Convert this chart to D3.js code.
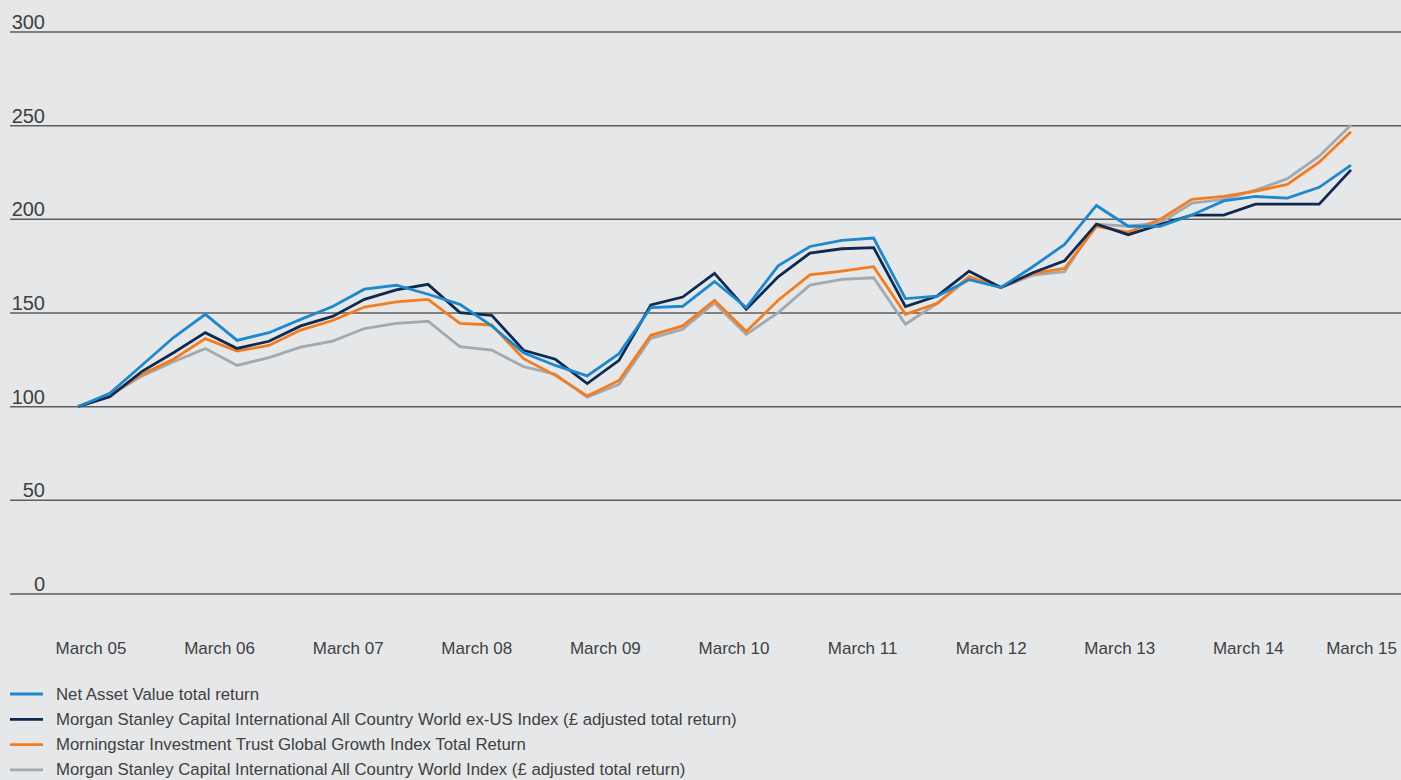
<!DOCTYPE html>
<html lang="en">
<head>
  <meta charset="UTF-8">
  <title>Performance since March 2005</title>
  <script src="https://d3js.org/d3.v7.min.js"></script>
  <style>
    body {
      margin: 0;
      background: #e6e7e9;
      font-family: "Liberation Sans", Arial, sans-serif;
    }
    .grid line { stroke: #5e5e5e; stroke-width: 1.5px; }
    .ytick { fill: #404040; font-size: 20px; }
    .xtick { fill: #404040; font-size: 17px; }
    .legend text { fill: #404040; font-size: 16.8px; }
    .series { fill: none; stroke-width: 2.8px; stroke-linejoin: miter; }
  </style>
</head>
<body>
  <div id="chart"></div>
  <script>
    // quarterly points, March 05 .. March 15 (rebased to 100)
    const yearLabels = ["March 05", "March 06", "March 07", "March 08", "March 09", "March 10",
      "March 11", "March 12", "March 13", "March 14", "March 15"];
    const yTicks = [0, 50, 100, 150, 200, 250, 300];

    const navReturn = [100, 107.1, 122, 136.9, 149.3, 135.4, 139.5, 146.6, 153.5, 162.7, 164.8,
      160, 154.6, 143.1, 128.8, 122, 116.4, 128.3, 152.9, 153.6, 166.8, 152.9, 175.2, 185.5,
      188.8, 190, 157.7, 159, 167.8, 163.6, 174.7, 186.6, 207.4, 196.3, 196.3, 202.3, 209.8,
      212.2, 211.3, 217.1, 228.9];
    const msciExUs = [100, 105.3, 118.7, 128.8, 139.5, 131.1, 134.9, 143.1, 148.2, 157.3, 162.3,
      165.3, 150.2, 148.8, 130.1, 125.3, 112.3, 124.7, 154.3, 158.5, 171.2, 152, 169.3, 182,
      184.3, 184.9, 153.4, 159.1, 172.3, 163.6, 171.5, 177.9, 197.4, 191.8, 197.2, 202.3, 202.3,
      208.1, 208.1, 208.1, 226.4];
    const morningstar = [100, 106.2, 117.2, 125.3, 136.3, 129.7, 132.7, 140.9, 146, 153.2, 155.9,
      157.3, 144.5, 143.6, 125.6, 116.7, 105.7, 114, 138.1, 143.1, 156.8, 140.1, 156.8, 170.4,
      172.4, 174.7, 149.3, 155.2, 169.4, 163.6, 171.1, 173.8, 196.2, 193.2, 199.9, 210.7, 212.2,
      215, 218.6, 230.5, 246.7];
    const msciAcwi = [100, 106, 116.3, 124, 131, 122, 126.2, 131.8, 135, 141.7, 144.5,
      145.6, 132, 130.2, 121.4, 117.3, 105.1, 111.9, 136.5, 141.3, 155.4, 138.6, 150.2, 164.9,
      168, 168.8, 144, 155.2, 168.6, 163.6, 170.2, 172.1, 197.4, 196.3, 198.1, 208.6, 210.7,
      215.6, 221.7, 233.7, 250.3];

    const seriesNames = [
      "Net Asset Value total return",
      "Morgan Stanley Capital International All Country World ex-US Index (\u00a3 adjusted total return)",
      "Morningstar Investment Trust Global Growth Index Total Return",
      "Morgan Stanley Capital International All Country World Index (\u00a3 adjusted total return)"
    ];
    const seriesColors = ["#1e88cc", "#0e2a50", "#f47c20", "#a2a9af"];
    const seriesValues = [navReturn, msciExUs, morningstar, msciAcwi];

    const width = 1401;
    const height = 780;

    const svg = d3.select("#chart")
      .append("svg")
      .attr("width", width)
      .attr("height", height);

    const x = d3.scaleLinear().domain([0, navReturn.length - 1]).range([78, 1351]);
    const y = d3.scaleLinear().domain([0, 300]).range([594, 32]);

    // gridlines
    const grid = svg.append("g").attr("class", "grid");
    grid.selectAll("line")
      .data(yTicks)
      .enter()
      .append("line")
      .attr("x1", 10)
      .attr("x2", width)
      .attr("y1", d => y(d))
      .attr("y2", d => y(d));

    svg.append("g").selectAll("text")
      .data(yTicks)
      .enter()
      .append("text")
      .attr("class", "ytick")
      .attr("x", 45)
      .attr("y", d => y(d) - 3)
      .attr("text-anchor", "end")
      .text(d => d);

    // x labels, one per year
    const labelX = d3.scaleLinear().domain([0, yearLabels.length - 1]).range([91, 1377]);
    svg.append("g").selectAll("text")
      .data(yearLabels)
      .enter()
      .append("text")
      .attr("class", "xtick")
      .attr("y", 654)
      .attr("text-anchor", "middle")
      .text(d => d)
      .attr("x", function (d, i) {
        const w = this.getComputedTextLength();
        return Math.min(labelX(i), 1397 - w / 2);
      });

    // lines, drawn bottom to top
    const line = d3.line()
      .x((d, i) => x(i))
      .y(d => y(d));

    const order = [3, 2, 1, 0];
    svg.append("g").selectAll("path")
      .data(order)
      .enter()
      .append("path")
      .attr("class", "series")
      .attr("stroke", k => seriesColors[k])
      .attr("d", k => line(seriesValues[k]));

    // legend
    const legend = svg.append("g").attr("class", "legend");
    const rows = legend.selectAll("g")
      .data(seriesNames)
      .enter()
      .append("g")
      .attr("transform", (d, i) => `translate(0, ${694 + i * 25.3})`);

    rows.append("line")
      .attr("x1", 10)
      .attr("x2", 43)
      .attr("stroke", (d, i) => seriesColors[i])
      .attr("stroke-width", 2.8);

    rows.append("text")
      .attr("x", 56)
      .attr("y", 5.5)
      .text(d => d);
  </script>
</body>
</html>
